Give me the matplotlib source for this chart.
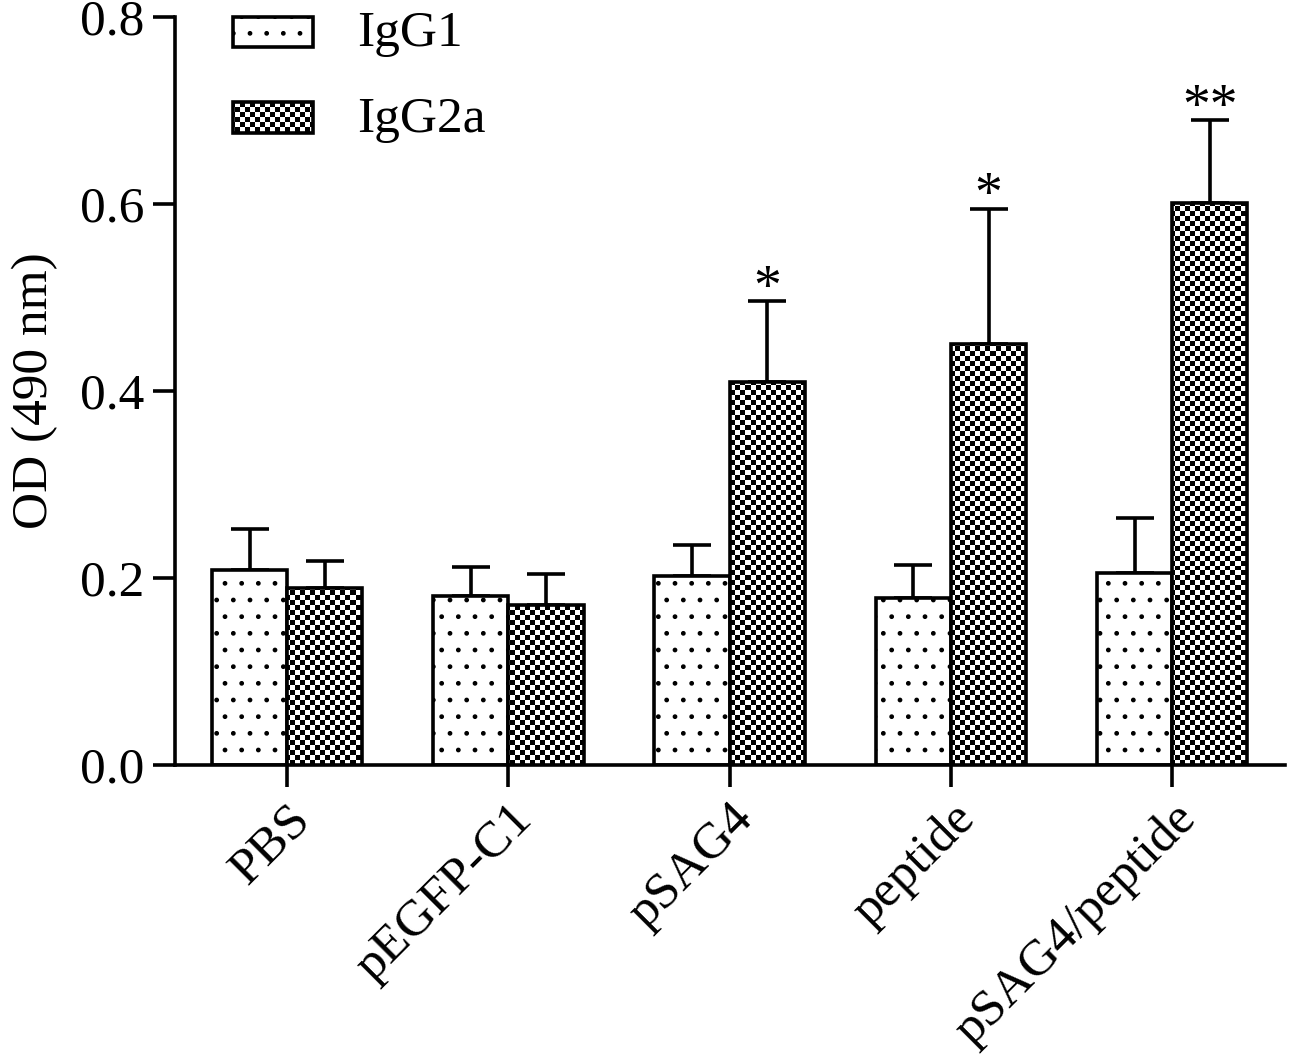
import numpy as np
import matplotlib
matplotlib.use("Agg")
import matplotlib.pyplot as plt
from matplotlib.patches import Rectangle

# ---- data ----
groups = ["PBS", "pEGFP-C1", "pSAG4", "peptide", "pSAG4/peptide"]
igg1_mean = [0.209, 0.181, 0.202, 0.179, 0.205]
igg1_err = [0.043, 0.031, 0.033, 0.035, 0.059]
igg2a_mean = [0.189, 0.171, 0.410, 0.450, 0.601]
igg2a_err = [0.029, 0.033, 0.086, 0.145, 0.089]
stars = ["", "", "*", "*", "**"]
yticks = [0.0, 0.2, 0.4, 0.6, 0.8]

plt.rcParams['font.family'] = ['Liberation Serif', 'DejaVu Serif']

fig = plt.figure(figsize=(12.93, 10.55), dpi=100)
ax = fig.add_axes([0.1353, 0.2749, 0.8585, 0.709])

x = np.arange(len(groups))
w = 0.34
lw = 2.6
fs = 37

# IgG1 bars: dotted
b1 = ax.bar(x - w / 2, igg1_mean, w, facecolor="white", edgecolor="black",
            hatch=".", linewidth=lw, zorder=2)

# IgG2a bars: checkerboard (white face, image clipped, outline on top)
b2 = ax.bar(x + w / 2, igg2a_mean, w, facecolor="white", edgecolor="none",
            linewidth=0, zorder=2)
nx, ny = 222, 150
ii, jj = np.indices((ny, nx))
checker = ((ii + jj) % 2).astype(float)
for bar in b2:
    im = ax.imshow(checker, cmap="gray", vmin=0, vmax=1, extent=[0, 1, 0, 1],
                   transform=ax.transAxes, interpolation="nearest",
                   aspect="auto", zorder=3)
    im.set_clip_path(bar)
ax.bar(x + w / 2, igg2a_mean, w, fill=False, edgecolor="black",
       linewidth=lw, zorder=4)

# error bars (upper only)
zeros = np.zeros(len(groups))
ax.errorbar(x - w / 2, igg1_mean, yerr=[zeros, igg1_err], fmt="none",
            ecolor="black", elinewidth=lw, capsize=14, capthick=lw, zorder=1)
ax.errorbar(x + w / 2, igg2a_mean, yerr=[zeros, igg2a_err], fmt="none",
            ecolor="black", elinewidth=lw, capsize=14, capthick=lw, zorder=1)

# significance stars
for xi, m, e, s in zip(x, igg2a_mean, igg2a_err, stars):
    if s:
        ax.text(xi + w / 2, m + e - 0.003, s, ha="center", va="baseline",
                fontsize=40)

ax.set_xlim(-0.507, 4.51)
ax.set_ylim(0, 0.8)
ax.set_yticks(yticks)
ax.set_yticklabels([f"{v:.1f}" for v in yticks], fontsize=fs)
ax.set_xticks(x)
ax.set_xticklabels(groups, fontsize=fs, rotation=45, ha="right", va="top",
                   rotation_mode="anchor")
ax.set_ylabel("OD (490 nm)", fontsize=fs, labelpad=16)

for sp in ["top", "right"]:
    ax.spines[sp].set_visible(False)
for sp in ["left", "bottom"]:
    ax.spines[sp].set_linewidth(lw)
ax.tick_params(axis="both", direction="out", length=16, width=lw, pad=6)

# manual legend
r1 = Rectangle((0.052, 0.960), 0.072, 0.040, transform=ax.transAxes,
               facecolor="white", edgecolor="black", hatch=".", linewidth=lw,
               zorder=5, clip_on=False)
ax.add_patch(r1)
r2 = Rectangle((0.052, 0.845), 0.072, 0.041, transform=ax.transAxes,
               facecolor="white", edgecolor="none", zorder=5, clip_on=False)
ax.add_patch(r2)
im = ax.imshow(checker, cmap="gray", vmin=0, vmax=1, extent=[0, 1, 0, 1],
               transform=ax.transAxes, interpolation="nearest",
               aspect="auto", zorder=6)
im.set_clip_path(r2)
r2b = Rectangle((0.052, 0.845), 0.072, 0.041, transform=ax.transAxes,
                fill=False, edgecolor="black", linewidth=lw, zorder=7,
                clip_on=False)
ax.add_patch(r2b)
ax.text(0.164, 0.978, "IgG1", transform=ax.transAxes, fontsize=fs,
        va="center", ha="left")
ax.text(0.164, 0.863, "IgG2a", transform=ax.transAxes, fontsize=fs,
        va="center", ha="left")

fig.savefig("out.png", dpi=100)
